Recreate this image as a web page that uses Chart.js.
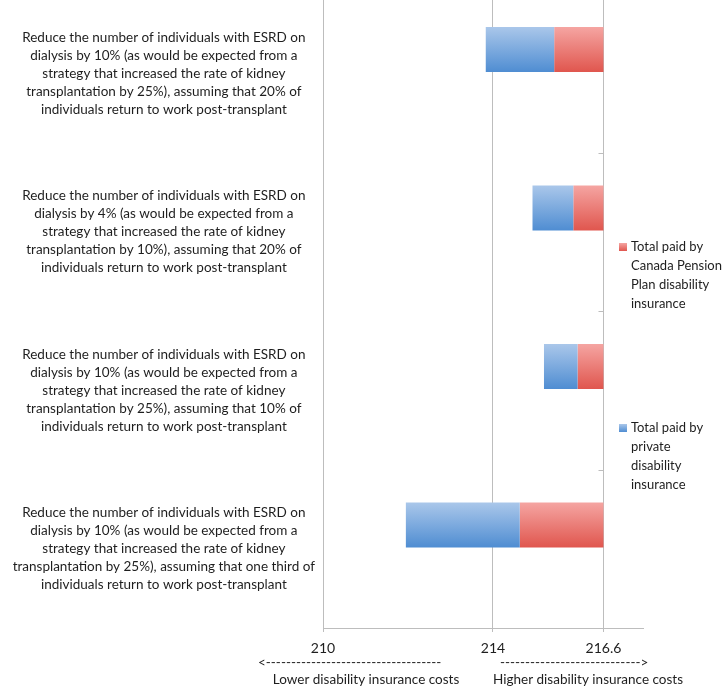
<!DOCTYPE html>
<html>
<head>
<meta charset="utf-8">
<script src="https://cdn.jsdelivr.net/npm/chart.js@4.4.1/dist/chart.umd.min.js"></script>
<style>
  html, body { margin: 0; padding: 0; background: #fff; }
  #wrap { width: 724px; height: 687px; position: relative; overflow: hidden; }
  /* the original plot area is cut off a few pixels above the top edge */
  #inner { position: absolute; left: 0; top: -6px; width: 724px; height: 693px; }
</style>
</head>
<body>
<div id="wrap"><div id="inner"><canvas id="c"></canvas></div></div>
<script>
// scenarios, top to bottom
const SCENARIOS = [
  ["Reduce the number of individuals with ESRD on", "dialysis by 10% (as would be expected from a", "strategy that increased the rate of kidney", "transplantation by 25%), assuming that 20% of", "individuals return to work post-transplant"],
  ["Reduce the number of individuals with ESRD on", "dialysis by 4% (as would be expected from a", "strategy that increased the rate of kidney", "transplantation by 10%), assuming that 20% of", "individuals return to work post-transplant"],
  ["Reduce the number of individuals with ESRD on", "dialysis by 10% (as would be expected from a", "strategy that increased the rate of kidney", "transplantation by 25%), assuming that 10% of", "individuals return to work post-transplant"],
  ["Reduce the number of individuals with ESRD on", "dialysis by 10% (as would be expected from a", "strategy that increased the rate of kidney", "transplantation by 25%), assuming that one third of", "individuals return to work post-transplant"]
];
// where each segment starts (bars run up to the status quo)
const PRIVATE_FROM = [213.83, 214.93, 215.20, 211.95];
const CPP_FROM     = [215.44, 215.89, 215.99, 214.63];
const STATUS_QUO = 216.6;

const X_TICKS = [210, 214, 216.6];
const X_TICK_LABELS = ["210", "214", "216.6"];

const LEGEND_CPP = ["Total paid by", "Canada Pension", "Plan disability", "insurance"];
const LEGEND_PRIVATE = ["Total paid by", "private", "disability", "insurance"];
const NOTE_LOWER = "Lower disability insurance costs";
const NOTE_HIGHER = "Higher disability insurance costs";

const FONT = "Lato, 'Open Sans', sans-serif";
const TEXT = "#1e1e1e";
const GRID = "#bdbdbd";
const BLUE = ["#aac7ea", "#4f8dd2"];
const RED = ["#f5a5a2", "#e0564e"];
const SHIFT = 6; // canvas sits 6px above the page

// vertical gradient on each bar, once the bars have their positions
const gradientBars = {
  id: "gradientBars",
  beforeDatasetsDraw(chart){
    const ctx = chart.ctx;
    chart.data.datasets.forEach((ds, di) => {
      if (!ds.grad) return;
      for (const bar of chart.getDatasetMeta(di).data){
        const top = bar.y - bar.height/2, bottom = bar.y + bar.height/2;
        const g = ctx.createLinearGradient(0, top, 0, bottom);
        g.addColorStop(0, ds.grad[0]); g.addColorStop(1, ds.grad[1]);
        bar.options = Object.assign({}, bar.options, { backgroundColor: g });
      }
    });
  }
};

// small category ticks on the vertical line at the status quo
const crossTicks = {
  id: "crossTicks",
  afterDatasetsDraw(chart){
    const { ctx, scales: { x, y } } = chart;
    const px = Math.round(x.getPixelForValue(STATUS_QUO)) + 0.5;
    ctx.save();
    ctx.strokeStyle = GRID; ctx.lineWidth = 1;
    for (let i = 0; i < SCENARIOS.length - 1; i++){
      const py = Math.round((y.getPixelForValue(i) + y.getPixelForValue(i+1)) / 2) + 0.5;
      ctx.beginPath(); ctx.moveTo(px - 5, py); ctx.lineTo(px, py); ctx.stroke();
    }
    ctx.restore();
  }
};

function dashLine(ctx, head, tail, width){
  let s = "";
  while (ctx.measureText(head + s + "-" + tail).width <= width) s += "-";
  return head + s + tail;
}

// legend on the right + the direction notes under the axis
const sideText = {
  id: "sideText",
  afterDraw(chart){
    const ctx = chart.ctx;
    ctx.save();
    ctx.translate(0, SHIFT);
    ctx.fillStyle = TEXT;
    ctx.textBaseline = "middle";
    ctx.font = "13px " + FONT;
    const drawItem = (lines, colors, y0) => {
      const g = ctx.createLinearGradient(0, y0 - 4, 0, y0 + 4);
      g.addColorStop(0, colors[0]); g.addColorStop(1, colors[1]);
      ctx.fillStyle = g;
      ctx.fillRect(619, y0 - 4, 8, 8);
      ctx.fillStyle = TEXT;
      ctx.textAlign = "left";
      lines.forEach((t, i) => ctx.fillText(t, 631, y0 + i * 19));
    };
    drawItem(LEGEND_CPP, RED, 247);
    drawItem(LEGEND_PRIVATE, BLUE, 428);

    ctx.font = "13.5px " + FONT;
    ctx.textAlign = "left";
    ctx.fillText(dashLine(ctx, "<", "", 185), 258, 663);
    ctx.fillText(dashLine(ctx, "", ">", 150), 500, 663);
    ctx.textAlign = "center";
    ctx.fillText(NOTE_LOWER, 366, 680);
    ctx.fillText(NOTE_HIGHER, 588, 680);
    ctx.restore();
  }
};

const privateBars = PRIVATE_FROM.map((v, i) => [v, CPP_FROM[i]]);
const cppBars = CPP_FROM.map(v => [v, STATUS_QUO]);

new Chart(document.getElementById("c"), {
  type: "bar",
  data: {
    labels: SCENARIOS,
    datasets: [
      { label: "Total paid by private disability insurance", data: privateBars, stack: "cost", grad: BLUE, backgroundColor: BLUE[1], borderWidth: 0 },
      { label: "Total paid by Canada Pension Plan disability insurance", data: cppBars, stack: "cost", grad: RED, backgroundColor: RED[1], borderWidth: 0 },
      // empty slot so the bars sit in the upper half of each row, as in the original
      { label: "", data: SCENARIOS.map(() => null), stack: "pad" }
    ]
  },
  options: {
    indexAxis: "y",
    responsive: true,
    maintainAspectRatio: false,
    animation: false,
    categoryPercentage: 0.6,
    barPercentage: 0.947,
    layout: { padding: { top: 0, right: 81, bottom: 0, left: 0 } },
    plugins: { legend: { display: false }, tooltip: { enabled: false } },
    scales: {
      x: {
        type: "linear",
        min: 210,
        max: 217.53,
        stacked: false,
        afterBuildTicks: (s) => { s.ticks = X_TICKS.map(v => ({ value: v })); },
        afterFit: (s) => { s.height = 59; s.paddingLeft = 0; s.paddingRight = 0; },
        grid: { color: GRID, lineWidth: 1, tickLength: 4, drawTicks: true },
        border: { display: true, color: GRID, width: 1 },
        ticks: {
          autoSkip: false,
          maxRotation: 0,
          padding: 8,
          color: TEXT,
          font: { family: FONT, size: 14 },
          callback: (v) => X_TICK_LABELS[X_TICKS.indexOf(v)]
        }
      },
      y: {
        afterFit: (s) => { s.width = 323; s.paddingTop = 0; s.paddingBottom = 0; },
        grid: { display: false, drawTicks: false },
        border: { display: true, color: GRID, width: 1 },
        ticks: {
          crossAlign: "center",
          padding: 8,
          color: TEXT,
          font: { family: FONT, size: 13.5, lineHeight: 1.33 }
        }
      }
    }
  },
  plugins: [gradientBars, crossTicks, sideText]
});
</script>
</body>
</html>
